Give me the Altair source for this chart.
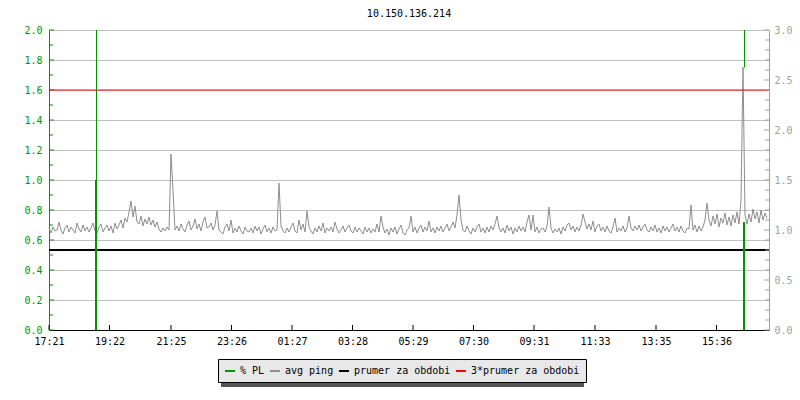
import altair as alt
import pandas as pd
import numpy as np

title_text = "10.150.136.214"
series_names = ["% PL", "avg ping", "prumer za obdobi", "3*prumer za obdobi"]
series_colors = ["#009600", "#8e8e8e", "#000000", "#ff0000"]

time_tick_minutes = [0, 121, 244, 365, 486, 607, 728, 849, 970, 1092, 1214, 1335]
time_tick_labels = ["17:21", "19:22", "21:25", "23:26", "01:27", "03:28",
                    "05:29", "07:30", "09:31", "11:33", "13:35", "15:36"]

ping_step_minutes = 4
avg_ping = [
    1.02, 0.97, 1.03, 0.99, 1.00, 1.08, 1.00, 0.96, 1.02, 1.05, 0.98, 1.03, 1.00, 0.97, 1.07, 1.01, 0.98, 1.05, 0.99, 1.03,
    0.98, 1.02, 1.07, 0.99, 0.97, 1.03, 1.06, 0.98, 1.02, 1.05, 0.99, 1.04, 0.97, 1.07, 1.01, 1.05, 1.10, 1.02, 1.12, 1.08,
    1.18, 1.29, 1.13, 1.24, 1.08, 1.06, 1.14, 1.04, 1.11, 1.06, 1.13, 1.05, 1.10, 1.03, 1.08, 1.01, 0.98, 1.02, 0.99, 1.03,
    1.00, 1.76, 1.40, 1.00, 1.04, 0.99, 1.06, 1.01, 0.98, 1.05, 1.09, 1.00, 1.04, 1.11, 1.01, 1.06, 0.99, 1.08, 1.13, 1.02,
    1.03, 1.07, 1.00, 1.05, 1.19, 1.00, 0.98, 0.96, 1.03, 1.06, 0.99, 1.10, 0.97, 1.02, 0.98, 1.04, 0.99, 0.96, 1.03, 0.99,
    0.98, 1.02, 0.97, 1.04, 0.99, 1.03, 0.96, 1.01, 1.05, 0.98, 1.02, 0.97, 1.03, 0.99, 1.00, 1.47, 1.04, 0.99, 0.97, 1.02,
    0.98, 1.03, 1.07, 0.99, 0.97, 1.10, 1.00, 1.06, 0.98, 1.19, 1.03, 0.99, 0.96, 1.02, 0.98, 1.04, 0.99, 1.07, 0.97, 1.02,
    0.99, 1.03, 0.98, 1.08, 1.01, 0.97, 1.00, 1.04, 0.98, 1.02, 1.05, 0.99, 0.97, 1.03, 0.98, 1.02, 0.99, 0.96, 1.03, 0.98,
    1.02, 0.97, 1.01, 0.98, 1.06, 0.98, 1.14, 1.03, 0.97, 1.01, 0.95, 1.02, 0.98, 1.03, 0.96, 1.01, 1.05, 0.97, 0.95, 1.00,
    1.02, 1.14, 0.98, 1.03, 0.97, 1.02, 1.05, 0.98, 1.03, 0.99, 1.09, 0.98, 1.02, 0.97, 1.03, 0.99, 1.04, 0.98, 1.02, 1.06,
    0.99, 1.03, 1.08, 1.02, 1.15, 1.35, 1.10, 1.00, 0.98, 1.04, 0.99, 0.96, 1.02, 0.98, 1.03, 1.06, 0.98, 1.02, 0.97, 1.03,
    0.98, 1.04, 1.00, 1.06, 1.14, 1.02, 0.98, 1.02, 0.97, 1.05, 0.99, 1.03, 0.96, 1.02, 0.98, 1.04, 0.99, 1.03, 0.98, 1.08,
    1.15, 1.00, 1.15, 0.98, 1.03, 0.97, 1.01, 1.02, 0.98, 1.04, 1.23, 1.02, 0.97, 1.01, 0.98, 1.02, 0.96, 1.03, 0.99, 1.05,
    1.07, 1.00, 1.04, 0.98, 1.03, 0.99, 1.05, 1.16, 1.08, 1.01, 1.06, 1.00, 1.09, 0.98, 1.04, 1.06, 0.99, 1.03, 0.98, 1.04,
    0.99, 0.97, 1.03, 1.12, 0.98, 1.02, 0.99, 1.04, 0.98, 1.02, 1.14, 1.02, 0.99, 1.04, 1.00, 1.05, 0.99, 1.03, 1.06, 1.00,
    0.98, 1.03, 0.99, 1.05, 0.98, 1.02, 0.97, 1.04, 0.99, 1.03, 0.98, 1.02, 1.06, 0.99, 1.03, 0.98, 1.04, 0.99, 0.97, 1.02,
    1.01, 1.25, 1.00, 1.05, 0.98, 1.04, 0.99, 1.03, 1.10, 1.27, 1.10, 1.04, 1.14, 1.06, 1.16, 1.03, 1.12, 1.07, 1.17, 1.05,
    1.13, 1.04, 1.15, 1.07, 1.18, 1.06, 1.30, 2.63, 1.15, 1.06, 1.16, 1.08, 1.21, 1.11, 1.18, 1.07, 1.20, 1.10, 1.17, 1.12,
]
period_mean = 0.8

pl_minutes = [94, 1390]
pl_thick_top = [1.0, 0.72]
pl_thin_bottom = [0.0, 1.75]
pl_thin_top = [2.0, 2.0]

left_ticks_major = [0.0, 0.2, 0.4, 0.6, 0.8, 1.0, 1.2, 1.4, 1.6, 1.8, 2.0]
left_ticks_minor = [0.1, 0.3, 0.5, 0.7, 0.9, 1.1, 1.3, 1.5, 1.7, 1.9]
right_ticks_major = [0.0, 0.5, 1.0, 1.5, 2.0, 2.5, 3.0]
right_ticks_minor = [0.1, 0.2, 0.3, 0.4, 0.6, 0.7, 0.8, 0.9, 1.1, 1.2, 1.3, 1.4,
                     1.6, 1.7, 1.8, 1.9, 2.1, 2.2, 2.3, 2.4, 2.6, 2.7, 2.8, 2.9]

FONT = "DejaVu Sans Mono"
W, H = 720, 300
GREEN = series_colors[0]
AXGRAY = "#a0a0a0"

ping_df = pd.DataFrame({
    "t": [i * ping_step_minutes for i in range(len(avg_ping))],
    "v": avg_ping,
    "series": "avg ping",
})
pl_df = pd.DataFrame({
    "t": pl_minutes, "top": pl_thick_top, "tb": pl_thin_bottom, "tt": pl_thin_top,
    "series": "% PL",
})
mean_df = pd.DataFrame({"v": [period_mean], "series": ["prumer za obdobi"]})
mean3_df = pd.DataFrame({"v": [3 * period_mean], "series": ["3*prumer za obdobi"]})

labels_js = "[" + ",".join("'%s'" % s for s in time_tick_labels) + "]"
mins_js = "[" + ",".join(str(m) for m in time_tick_minutes) + "]"

x_scale = alt.Scale(domain=[0, 1440], nice=False, zero=False)
x_axis = alt.Axis(values=time_tick_minutes, labelExpr=f"{labels_js}[indexof({mins_js}, datum.value)]",
                  ticks=False, grid=False, domainColor="black", labelColor="black",
                  labelFont=FONT, labelFontSize=10, labelPadding=6, title=None,
                  labelFlush=False, labelOverlap=False)
yl_scale = alt.Scale(domain=[0, 2], nice=False, zero=False)
yr_scale = alt.Scale(domain=[0, 3], nice=False, zero=False)

color = alt.Color("series:N", scale=alt.Scale(domain=series_names, range=series_colors),
                  legend=alt.Legend(title=None, orient="none", legendX=169, legendY=329,
                                    direction="horizontal", columns=4, symbolType="stroke",
                                    symbolStrokeWidth=2, symbolSize=100, labelFont=FONT,
                                    labelFontSize=10, labelColor="black", fillColor="#e8e8e8",
                                    strokeColor="black", padding=6, columnPadding=1,
                                    labelOffset=4, rowPadding=0))

X = alt.X("t:Q", scale=x_scale, axis=x_axis)

left_axis_layer = alt.Chart(pd.DataFrame({"v": left_ticks_major})).mark_rule(
    color=GREEN, strokeWidth=1).encode(
    x=alt.value(0), x2=alt.value(5),
    y=alt.Y("v:Q", scale=yl_scale,
            axis=alt.Axis(orient="left", values=left_ticks_major, format=".1f", ticks=False,
                          grid=True, gridColor="#c0c0c0", domainColor=GREEN, labelColor=GREEN,
                          labelFont=FONT, labelFontSize=10, labelPadding=7, title=None)),
)
left_minor = alt.Chart(pd.DataFrame({"v": left_ticks_minor})).mark_rule(
    color=GREEN, strokeWidth=1).encode(
    x=alt.value(0), x2=alt.value(4),
    y=alt.Y("v:Q", scale=yl_scale, axis=None),
)

right_axis_layer = alt.Chart(pd.DataFrame({"v": right_ticks_major})).mark_rule(
    color=AXGRAY, strokeWidth=1).encode(
    x=alt.value(W - 5), x2=alt.value(W),
    y=alt.Y("v:Q", scale=yr_scale,
            axis=alt.Axis(orient="right", values=right_ticks_major, format=".1f", ticks=False,
                          grid=False, domainColor=AXGRAY, labelColor=AXGRAY,
                          labelFont=FONT, labelFontSize=10, labelPadding=5, title=None)),
)
right_minor = alt.Chart(pd.DataFrame({"v": right_ticks_minor})).mark_rule(
    color=AXGRAY, strokeWidth=1).encode(
    x=alt.value(W - 4), x2=alt.value(W),
    y=alt.Y("v:Q", scale=yr_scale, axis=None),
)

bottom_ticks = alt.Chart(pd.DataFrame({"t": time_tick_minutes})).mark_rule(
    color="black", strokeWidth=1).encode(
    x=X, y=alt.value(H - 5), y2=alt.value(H),
)

ping_line = alt.Chart(ping_df).mark_line(strokeWidth=1).encode(
    x=X, y=alt.Y("v:Q", scale=yr_scale, axis=None), color=color,
)
mean_rule = alt.Chart(mean_df).mark_rule(strokeWidth=2).encode(
    y=alt.Y("v:Q", scale=yr_scale, axis=None), color=color,
)
pl_thick = alt.Chart(pl_df).mark_rule(strokeWidth=2).encode(
    x=X, y=alt.Y("top:Q", scale=yl_scale, axis=None), y2=alt.value(H), color=color,
)
pl_thin = alt.Chart(pl_df).mark_rule(strokeWidth=1, xOffset=0.5).encode(
    x=X, y=alt.Y("tb:Q", scale=yl_scale, axis=None), y2="tt:Q", color=color,
)
mean3_rule = alt.Chart(mean3_df).mark_rule(strokeWidth=1).encode(
    y=alt.Y("v:Q", scale=yr_scale, axis=None), color=color,
)

shadow = alt.Chart(pd.DataFrame({"a": [0]})).mark_rect(color="#555555").encode(
    x=alt.value(172), x2=alt.value(535), y=alt.value(332), y2=alt.value(357),
)

chart = alt.layer(
    shadow, left_axis_layer, right_axis_layer, ping_line, mean_rule, pl_thick, pl_thin,
    mean3_rule, left_minor, right_minor, bottom_ticks,
).resolve_scale(y="independent").properties(
    width=W, height=H,
    title=alt.TitleParams(title_text, font=FONT, fontSize=10, fontWeight="normal",
                          color="black", anchor="middle", frame="group", offset=6),
    autosize=alt.AutoSizeParams(type="none"),
    padding={"left": 41, "top": 22, "right": 23, "bottom": 62},
).configure_view(strokeWidth=0).configure(background="white")

chart.save("out.html", embed_options={"renderer": "svg", "actions": False})
